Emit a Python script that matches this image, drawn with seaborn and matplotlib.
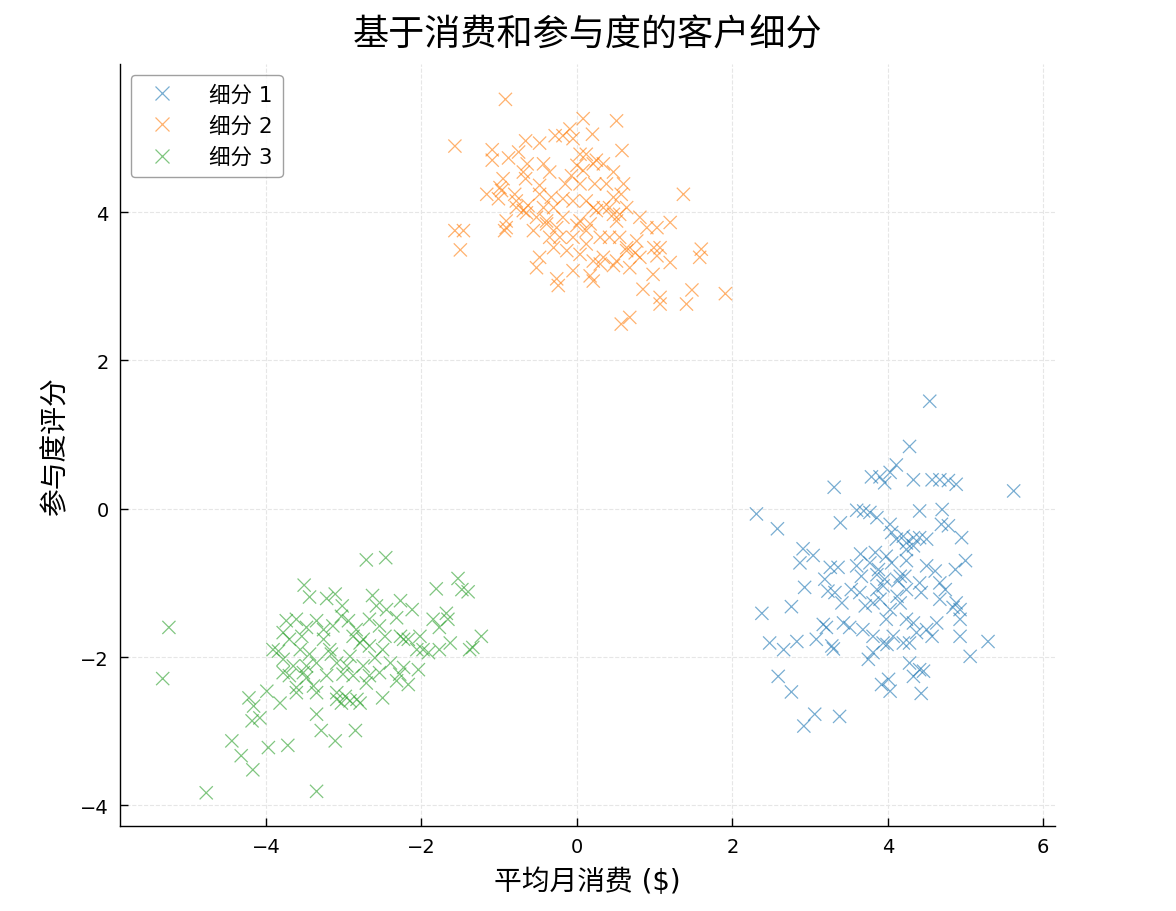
import pandas as pd
import seaborn as sns
import matplotlib.pyplot as plt

# 数据：每个点 (平均月消费, 参与度评分)
seg1_x = [4.54, 4.28, 4.11, 3.79, 3.90, 3.96, 4.03, 4.33, 4.57, 4.67, 4.78, 4.88, 3.31, 5.62,
          2.31, 2.58, 3.39, 3.60, 3.69, 3.77, 3.86, 4.41, 4.70, 4.69, 4.78, 4.03, 4.05, 4.11,
          4.20, 4.24, 4.33, 4.41, 4.50, 4.95, 4.24, 4.33, 2.91, 3.04, 2.87, 3.65, 3.84, 3.98,
          4.24, 4.50, 4.61, 4.87, 5.00, 3.26, 3.36, 3.60, 3.66, 3.86, 3.96, 4.13, 4.22, 4.41,
          3.19, 2.93, 3.23, 3.32, 3.41, 3.64, 3.86, 3.94, 4.43, 4.67, 4.74, 4.88, 4.93, 4.93,
          2.76, 2.38, 3.71, 3.81, 4.03, 3.98, 4.16, 4.24, 4.33, 4.50, 4.63, 3.17, 3.21, 3.43,
          3.51, 3.68, 3.81, 3.94, 4.07, 4.20, 4.28, 4.37, 4.57, 4.93, 5.29, 2.48, 2.66, 2.83,
          3.08, 3.28, 3.30, 3.75, 3.81, 3.99, 5.06, 4.28, 4.33, 4.41, 4.46, 2.59, 3.92, 4.01,
          4.03, 4.43, 2.76, 3.06, 3.38, 2.92, 3.53, 3.77, 3.88, 4.05, 4.16, 4.67, 4.84, 4.12,
          3.90, 4.24]
seg1_y = [1.45, 0.84, 0.59, 0.43, 0.43, 0.35, 0.49, 0.39, 0.39, 0.39, 0.38, 0.33, 0.29, 0.24,
          -0.07, -0.27, -0.19, -0.02, -0.03, -0.05, -0.12, -0.03, -0.01, -0.21, -0.23, -0.21,
          -0.32, -0.41, -0.37, -0.46, -0.39, -0.39, -0.41, -0.39, -0.55, -0.50, -0.54, -0.63,
          -0.73, -0.61, -0.59, -0.64, -0.70, -0.77, -0.84, -0.82, -0.70, -0.79, -0.79, -0.77,
          -0.91, -0.89, -0.95, -0.97, -0.91, -1.00, -0.95, -1.06, -1.11, -1.13, -1.27, -1.13,
          -1.09, -1.04, -1.13, -1.22, -1.09, -1.27, -1.36, -1.49, -1.32, -1.41, -1.31, -1.27,
          -1.36, -1.49, -1.27, -1.49, -1.54, -1.63, -1.54, -1.56, -1.60, -1.54, -1.60, -1.63,
          -1.72, -1.81, -1.72, -1.81, -1.81, -1.67, -1.72, -1.72, -1.79, -1.81, -1.90, -1.79,
          -1.76, -1.85, -1.89, -2.03, -1.94, -1.83, -1.99, -2.08, -2.26, -2.17, -2.19, -2.26,
          -2.37, -2.30, -2.46, -2.49, -2.47, -2.77, -2.80, -2.93, -1.09, -0.73, -0.82, -0.73,
          -0.91, -1.00, -1.33, -1.18, -1.22, -1.09]

seg2_x = [-0.92, -1.57, 0.08, 0.51, -0.28, -0.18, -0.09, -0.05, 0.20, 0.58, -0.66, -0.48,
          -1.09, -1.09, -0.88, -0.75, -0.64, -0.69, -0.66, -0.43, -0.35, -0.48, 0.04, 0.12,
          0.21, 0.34, 0.00, 0.47, 0.60, -0.07, -0.15, 0.04, 0.23, 0.38, -0.95, -0.99, -1.16,
          -1.01, -0.78, -0.63, -0.48, -0.33, -0.30, -0.18, -0.05, 0.12, 0.21, 0.34, 0.47, 0.57,
          0.64, 0.55, 0.81, 1.37, -0.65, -0.52, -0.39, -0.18, 0.04, 0.17, -0.91, -0.93, -1.57,
          -1.46, -1.50, 0.90, 1.03, 1.20, -0.56, -0.35, -0.22, -0.05, 0.12, -0.30, -0.13, 0.55,
          0.77, 0.99, 1.07, -0.48, 0.04, 0.21, 0.34, 0.51, 0.64, 0.81, 1.03, 1.20, -0.52, -0.05,
          0.17, 0.68, 0.98, -0.26, -0.24, 0.21, 1.60, 1.58, 0.85, 1.07, 1.07, 1.41, 1.48, 1.91,
          0.57, 0.68, -0.78, -0.69, -0.43, 0.25, 0.42, 0.47, 0.51, -0.91, -0.80, -0.97, 0.08,
          0.25, -0.39, -0.26, 0.00, 0.30, 0.42, 0.64, 0.12, 0.30, 0.47, 0.75]
seg2_y = [5.52, 4.89, 5.26, 5.23, 5.03, 5.03, 5.12, 4.99, 5.05, 4.83, 4.96, 4.93, 4.84, 4.70,
          4.73, 4.81, 4.65, 4.54, 4.45, 4.65, 4.54, 4.36, 4.78, 4.78, 4.65, 4.65, 4.63, 4.54,
          4.38, 4.49, 4.38, 4.38, 4.38, 4.38, 4.45, 4.33, 4.24, 4.18, 4.15, 4.09, 4.24, 4.20,
          4.06, 4.18, 4.15, 4.15, 4.06, 4.06, 4.20, 4.24, 4.06, 3.97, 3.93, 4.24, 3.99, 3.93,
          3.88, 3.93, 3.88, 3.84, 3.88, 3.75, 3.75, 3.75, 3.49, 3.79, 3.79, 3.86, 3.75, 3.66,
          3.66, 3.66, 3.75, 3.52, 3.48, 3.66, 3.61, 3.52, 3.52, 3.39, 3.43, 3.34, 3.39, 3.34,
          3.48, 3.39, 3.41, 3.32, 3.25, 3.21, 3.14, 3.25, 3.16, 3.10, 3.01, 3.07, 3.50, 3.39,
          2.96, 2.85, 2.76, 2.76, 2.95, 2.90, 2.49, 2.58, 4.06, 4.02, 4.06, 4.02, 4.06, 3.97,
          3.88, 3.79, 4.24, 4.29, 4.56, 4.70, 3.84, 3.79, 3.82, 3.66, 3.66, 3.52, 3.57, 3.30,
          3.28, 3.45]

seg3_x = [-5.25, -5.33, -4.77, -3.35, -2.71, -2.46, -3.51, -3.44, -3.22, -3.11, -3.02, -2.63,
          -2.58, -2.45, -2.27, -2.12, -1.81, -1.53, -1.48, -1.40, -3.74, -3.61, -3.48, -3.35,
          -3.03, -2.94, -2.67, -2.54, -2.32, -1.85, -1.68, -1.66, -1.77, -1.23, -1.34, -1.38,
          -3.78, -3.70, -3.54, -3.26, -3.18, -2.88, -2.79, -2.67, -2.50, -2.27, -2.17, -2.06,
          -1.91, -1.77, -1.63, -3.84, -3.78, -3.44, -3.35, -3.16, -3.09, -2.92, -2.60, -2.40,
          -2.23, -2.04, -3.78, -3.70, -3.52, -3.22, -3.01, -2.88, -2.67, -2.32, -2.17, -3.99,
          -4.22, -3.82, -3.61, -3.39, -3.35, -3.09, -3.03, -2.92, -2.79, -2.71, -2.50, -4.16,
          -4.18, -4.08, -3.35, -3.29, -3.11, -2.85, -4.44, -4.32, -4.17, -3.97, -3.72, -3.91,
          -3.56, -3.26, -3.14, -2.84, -2.75, -2.47, -2.23, -2.02, -1.98, -3.65, -3.48, -2.96,
          -2.75, -2.54, -2.28, -3.09, -2.98, -2.83, -3.48, -3.61]
seg3_y = [-1.60, -2.29, -3.83, -3.81, -0.69, -0.66, -1.03, -1.19, -1.21, -1.15, -1.31, -1.17,
          -1.31, -1.36, -1.24, -1.36, -1.08, -0.94, -1.09, -1.12, -1.51, -1.49, -1.60, -1.51,
          -1.45, -1.51, -1.49, -1.58, -1.47, -1.49, -1.41, -1.49, -1.60, -1.72, -1.87, -1.90,
          -1.67, -1.76, -1.72, -1.76, -1.90, -1.72, -1.81, -1.85, -1.90, -1.72, -1.76, -1.90,
          -1.94, -1.90, -1.81, -1.92, -2.03, -1.96, -2.08, -1.96, -2.08, -1.99, -2.01, -2.08,
          -2.14, -2.17, -2.21, -2.25, -2.21, -2.25, -2.23, -2.25, -2.25, -2.32, -2.37, -2.46,
          -2.55, -2.62, -2.41, -2.39, -2.48, -2.48, -2.62, -2.59, -2.62, -2.35, -2.55, -2.66,
          -2.86, -2.82, -2.77, -2.99, -3.13, -2.99, -3.13, -3.33, -3.52, -3.22, -3.19, -1.90,
          -1.90, -1.63, -1.58, -1.63, -1.76, -1.72, -1.76, -1.72, -1.90, -2.12, -2.12, -2.12,
          -2.12, -2.21, -2.23, -2.57, -2.53, -2.57, -2.28, -2.48]

segment_names = ["细分 1", "细分 2", "细分 3"]
segment_colors = ["#1f77b4", "#ff7f0e", "#2ca02c"]

df = pd.concat([
    pd.DataFrame({"x": seg1_x, "y": seg1_y, "细分": segment_names[0]}),
    pd.DataFrame({"x": seg2_x, "y": seg2_y, "细分": segment_names[1]}),
    pd.DataFrame({"x": seg3_x, "y": seg3_y, "细分": segment_names[2]}),
], ignore_index=True)

sns.set_theme(style="white")
# 数字用 DejaVu Sans，中文回退到 Noto Sans CJK
plt.rcParams['font.family'] = ['DejaVu Sans', 'Noto Sans CJK SC']
plt.rcParams['axes.unicode_minus'] = True
plt.rcParams['text.color'] = 'black'
plt.rcParams['axes.labelcolor'] = 'black'

fig = plt.figure(figsize=(11.76, 9.12), dpi=100)
ax = fig.add_axes([0.102, 0.093, 0.795, 0.836])

sns.scatterplot(data=df, x="x", y="y", hue="细分", hue_order=segment_names,
                palette=segment_colors, marker="x", s=90, linewidth=0.9, alpha=0.6, ax=ax)

ax.set_xlim(-5.88, 6.15)
ax.set_ylim(-4.28, 6.0)
ax.set_xticks([-4, -2, 0, 2, 4, 6])
ax.set_yticks([-4, -2, 0, 2, 4])
ax.grid(True, linestyle="--", color="#e6e6e6", linewidth=0.8)
ax.tick_params(axis="both", labelsize=14, direction="in", length=6, width=1,
               left=True, bottom=True, colors="black", pad=8)
sns.despine(ax=ax)
for sp in ["left", "bottom"]:
    ax.spines[sp].set_color("black")
    ax.spines[sp].set_linewidth(1.0)

ax.set_title("基于消费和参与度的客户细分", fontsize=26, pad=14, color="black")
ax.set_xlabel("平均月消费 ($)", fontsize=20, labelpad=8)
ax.set_ylabel("参与度评分", fontsize=20, labelpad=8)

handles, labels = ax.get_legend_handles_labels()
ax.legend(handles, labels, loc="upper left", fontsize=15.5, frameon=True,
          edgecolor="#888888", fancybox=True, borderpad=0.45, handletextpad=1.2)

plt.savefig("out.png", dpi=100)
